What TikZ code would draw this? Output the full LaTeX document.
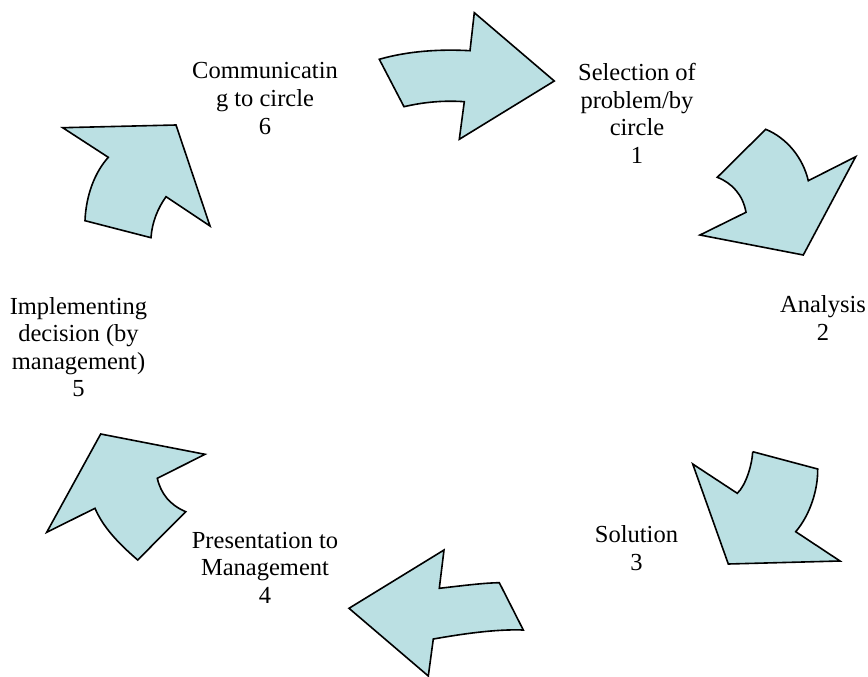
\documentclass[tikz,border=0pt]{standalone}
\usepackage{fontspec}
\setmainfont{Liberation Serif}
\definecolor{arrowfill}{RGB}{187,224,227}

\begin{document}
\begin{tikzpicture}[x=1pt,y=-1pt,
  bigarrow/.style={fill=arrowfill,draw=black,line width=1.6pt,line join=miter},
  steplabel/.style={align=center,inner sep=0pt,anchor=base,font=\fontsize{24.5}{27.5}\selectfont}]
\useasboundingbox (0,0) rectangle (868,677);

% stage labels (base = last line)
\path (265,134) node[steplabel] (comm) {Communicatin\\g to circle\\6};
\path (637,163) node[steplabel] (sel) {Selection of\\problem/by\\circle\\1};
\path (823,340) node[steplabel] (ana) {Analysis\\2};
\path (636.5,570) node[steplabel] (sol) {Solution\\3};
\path (265,603) node[steplabel] (pres) {Presentation to\\Management\\4};
\path (78.5,396.7) node[steplabel] (impl) {Implementing\\decision (by\\management)\\5};

% arrow 6 -> 1
\draw[bigarrow] (379.3,59.3) .. controls (408,51) and (440,49) .. (470,50.7)
  -- (474.3,12.7) -- (554.3,81) -- (459.3,139.3) -- (464.3,101.7)
  .. controls (440,100) and (420,103) .. (404,106.7) -- cycle;
% arrow 1 -> 2
\draw[bigarrow] (765.7,129.3) .. controls (787,138) and (803,158) .. (808.3,180.7)
  -- (855.7,156.7) -- (803.3,255) -- (700,235) -- (746,212.3)
  .. controls (743,195) and (732,183) .. (717.3,177.3) -- cycle;
% arrow 2 -> 3
\draw[bigarrow] (752.7,451.7) -- (817.7,469)
  .. controls (818,490) and (810,515) .. (795.7,531.7)
  -- (840,561) -- (728.3,564) -- (692.7,464) -- (737.3,493.3)
  .. controls (746,485) and (752,465) .. (752.7,451.7);
% arrow 3 -> 4
\draw[bigarrow] (349,608.3) -- (444,550) -- (439.3,588.3)
  .. controls (460,586) and (482,583) .. (499.3,582.7)
  -- (523.3,630) .. controls (495,629) and (462,634) .. (433.3,639)
  -- (428.3,676) -- cycle;
% arrow 4 -> 5
\draw[bigarrow] (100.7,434) -- (205,454.3) -- (157.3,478.3)
  .. controls (161,494) and (170,505) .. (185.7,511.7)
  -- (137.7,560) .. controls (118,543) and (103,527) .. (95,508.3)
  -- (46.7,532.3) -- cycle;
% arrow 5 -> 6
\draw[bigarrow] (62.7,127.7) -- (176,125) -- (210,226) -- (166,196.7)
  .. controls (158,208) and (152,222) .. (151,237.7)
  -- (85,220.7) .. controls (86,195) and (95,172) .. (108.3,157.3) -- cycle;
\end{tikzpicture}
\end{document}
